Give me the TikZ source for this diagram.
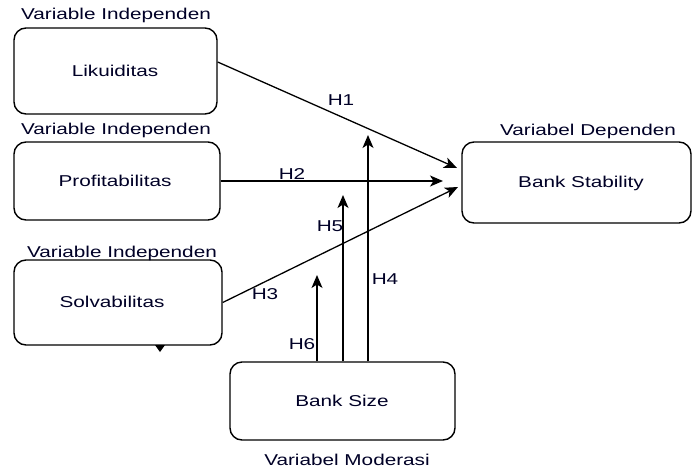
\documentclass[tikz,border=0pt]{standalone}
\usepackage{fontspec}
\setmainfont{Liberation Sans}[FakeStretch=1.32]
\usetikzlibrary{arrows.meta}
\begin{document}
\begin{tikzpicture}[x=1pt,y=-1pt,
  box/.style={draw, line width=1.4pt, rounded corners=12pt, inner sep=0pt},
  txt/.style={font=\fontsize{15.7}{18}\selectfont, text=black!85!blue, inner sep=0pt},
  conn/.style={line width=1.3pt, -{Stealth[length=13pt,width=11pt,inset=3.5pt]}}]
\useasboundingbox (0,0) rectangle (693,472);
% boxes
\node[box, minimum width=203pt, minimum height=86pt] (lik) at (115.5,71) {};
\node[box, minimum width=206pt, minimum height=78pt] (prof) at (117,181) {};
\node[box, minimum width=208pt, minimum height=85pt] (solv) at (118,302.5) {};
\node[box, minimum width=229pt, minimum height=81pt] (stab) at (576.5,182.5) {};
\node[box, minimum width=225pt, minimum height=78pt] (size) at (342.5,401) {};
% box texts
\node[txt] (tlik) at (115,71) {Likuiditas};
\node[txt] (tprof) at (115,181) {Profitabilitas};
\node[txt] (tsolv) at (112,302) {Solvabilitas};
\node[txt] (tstab) at (581,183) {Bank Stability};
\node[txt] (tsize) at (342,401) {Bank Size};
% group labels
\node[txt] (l1) at (116,15) {Variable Independen};
\node[txt] (l2) at (116,130) {Variable Independen};
\node[txt] (l3) at (122,253) {Variable Independen};
\node[txt] (l4) at (588,131) {Variabel Dependen};
\node[txt] (l5) at (347,460) {Variabel Moderasi};
% arrow ends
\coordinate (e1) at (457,168);
\coordinate (e2) at (443,181);
\coordinate (e3) at (458,187);
\coordinate (e4) at (368,135);
\coordinate (e5) at (343,195);
\coordinate (e6) at (317,275);
% connectors
\draw[conn] ([yshift=9pt]lik.east) -- (e1);
\draw[conn] (prof.east) -- (e2);
\draw[conn] (solv.east) -- (e3);
\draw[conn] ([xshift=25.5pt]size.north) -- (e4);
\draw[conn] ([xshift=0.5pt]size.north) -- (e5);
\draw[conn] ([xshift=-25.5pt]size.north) -- (e6);
% hypothesis labels
\node[txt] (h1) at (341,100) {H1};
\node[txt] (h2) at (292,174) {H2};
\node[txt] (h3) at (265,294) {H3};
\node[txt] (h4) at (385,279) {H4};
\node[txt] (h5) at (330,226) {H5};
\node[txt] (h6) at (302,344) {H6};
% stray arrowhead
\fill (155,345) -- (165,345) -- (160,352) -- cycle;
\end{tikzpicture}
\end{document}
